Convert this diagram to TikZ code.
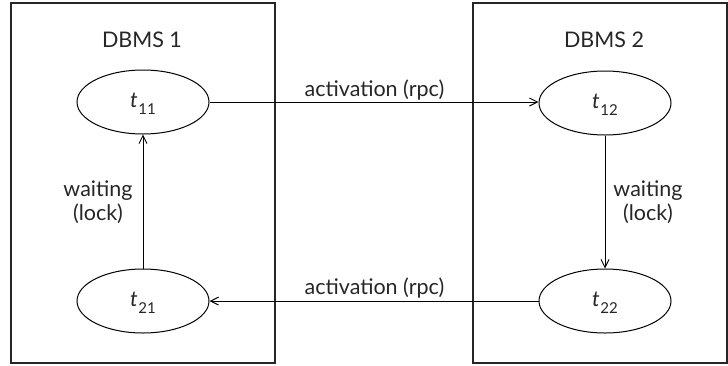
\documentclass[tikz,border=0pt]{standalone}
\usepackage{fontspec}
\setmainfont{Lato}
\usetikzlibrary{arrows.meta,shapes.geometric}
\newcommand{\tnm}[1]{\textit{t}\kern0.5pt\raisebox{-0.32em}{\fontsize{15}{15}\selectfont #1}}
\tikzset{
  frame/.style={draw=black!85, line width=1.1pt},
  tx/.style={draw, ellipse, line width=1pt, minimum width=132pt, minimum height=64pt, inner sep=0pt},
  lbl/.style={font=\fontsize{21.5}{24.5}\selectfont, inner sep=0pt, align=center, text=black!85},
  arr/.style={line width=1pt, -{Straight Barb[length=8pt,width=8pt,line width=1pt]}},
}
\begin{document}
\begin{tikzpicture}[x=1pt,y=-1pt]
\useasboundingbox (0,0) rectangle (728,365);
\draw[frame] (11,3) rectangle (275,363);
\draw[frame] (473,3) rectangle (727,363);
\node[lbl] (d1) at (142,40) {DBMS 1};
\node[lbl] (d2) at (604,40) {DBMS 2};
\node[tx] (t11) at (143,102) {};
\node[tx] (t12) at (605,103) {};
\node[tx] (t21) at (143,301) {};
\node[tx] (t22) at (605,301) {};
\node[lbl] (l11) at (143,104) {\tnm{11}};
\node[lbl] (l12) at (605,105) {\tnm{12}};
\node[lbl] (l21) at (143,303) {\tnm{21}};
\node[lbl] (l22) at (605,303) {\tnm{22}};
\draw[arr] (t11.east) -- (t11.east -| t12.west) coordinate (e1);
\draw[arr] (t22.west) -- (t22.west -| t21.east);
\draw[arr] (t21.north) -- (t11.south);
\draw[arr] (t12.south) -- (t22.north);
\node[lbl] (a1) at (374.5,90) {activation (rpc)};
\node[lbl] (a2) at (374.5,288) {activation (rpc)};
\node[lbl] (w1) at (98,202) {waiting\\(lock)};
\node[lbl] (w2) at (648,202) {waiting\\(lock)};
\end{tikzpicture}
\end{document}
